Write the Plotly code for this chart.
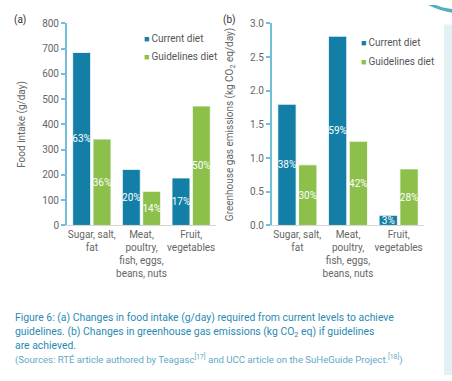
import plotly.graph_objects as go

categories = ["Sugar, salt,<br>fat", "Meat,<br>poultry,<br>fish, eggs,<br>beans, nuts", "Fruit,<br>vegetables"]
intake_current = [685, 222, 188]
intake_guidelines = [342, 135, 473]
intake_current_pct = ["63%", "20%", "17%"]
intake_guidelines_pct = ["36%", "14%", "50%"]
ghg_current = [1.80, 2.81, 0.15]
ghg_guidelines = [0.90, 1.25, 0.84]
ghg_current_pct = ["38%", "59%", "3%"]
ghg_guidelines_pct = ["30%", "42%", "28%"]
series_names = ["Current diet", "Guidelines diet"]

W, H = 452, 381
BLUE = "#137fa7"
GREEN = "#8cc04b"
AXBLUE = "#72bedb"
GRAY = "#666666"
FONT = "Roboto"

def px(x):
    return x / W

def py(y):
    return 1 - y / H

fig = go.Figure()

def add_bars(xa, ya, vals, pcts, name, color):
    fig.add_trace(go.Bar(
        x=categories, y=vals, name=name, xaxis=xa, yaxis=ya,
        marker=dict(color=color, line=dict(color="white", width=0.8)),
        text=pcts, textposition="inside", insidetextanchor="middle",
        textangle=0, constraintext="none", cliponaxis=False,
        textfont=dict(family=FONT, size=10, color="white"),
        showlegend=False,
    ))

add_bars("x", "y", intake_current, intake_current_pct, series_names[0], BLUE)
add_bars("x", "y", intake_guidelines, intake_guidelines_pct, series_names[1], GREEN)
add_bars("x2", "y2", ghg_current, ghg_current_pct, series_names[0], BLUE)
add_bars("x2", "y2", ghg_guidelines, ghg_guidelines_pct, series_names[1], GREEN)

ydom = [py(227), py(19)]
common_x = dict(showline=True, linecolor="#d6d6d6", linewidth=1, ticks="",
                tickangle=0, tickfont=dict(family=FONT, size=10, color=GRAY),
                showgrid=False, fixedrange=True)
common_y = dict(showline=True, linecolor=AXBLUE, linewidth=2, ticks="outside",
                ticklen=4, tickcolor=AXBLUE, tickwidth=2, showgrid=False,
                zeroline=False, tickfont=dict(family=FONT, size=10, color=GRAY),
                title_font=dict(family=FONT, size=10, color=GRAY), title_standoff=15)

fig.update_layout(
    width=W, height=H, margin=dict(l=0, r=0, t=0, b=0),
    paper_bgcolor="white", plot_bgcolor="white",
    barmode="group", bargap=0.18, bargroupgap=0.12,
    font=dict(family=FONT, size=10, color=GRAY),
    xaxis=dict(domain=[px(67), px(216)], anchor="y", **common_x),
    yaxis=dict(domain=ydom, anchor="x", range=[0, 800], dtick=100,
               title_text="Food intake (g/day)", **common_y),
    xaxis2=dict(domain=[px(272), px(424)], anchor="y2", **common_x),
    yaxis2=dict(domain=ydom, anchor="x2", range=[0, 3], dtick=0.5, tickformat=".1f",
                title_text="Greenhouse gas emissions (kg CO<sub>2</sub> eq/day)", **common_y),
)

ann = []
# panel labels
ann.append(dict(text="(a)", x=px(12), y=py(15), xanchor="left", yanchor="middle",
                font=dict(family=FONT, size=10, color="#333333")))
ann.append(dict(text="(b)", x=px(221), y=py(15), xanchor="left", yanchor="middle",
                font=dict(family=FONT, size=10, color="#333333")))
# legends
for (lx, ly0, ly1) in [(142, 35, 53), (359, 39, 58)]:
    for i, (nm, col) in enumerate(zip(series_names, [BLUE, GREEN])):
        ann.append(dict(text=f"<span style='color:{col};font-size:9px'>■</span>\u2009{nm}",
                        x=px(lx), y=py([ly0, ly1][i]), xanchor="left", yanchor="middle",
                        font=dict(family=FONT, size=10, color="#555555")))
# caption
cap_lines = [
    "Figure 6: (a) Changes in food intake (g/day) required from current levels to achieve",
    "guidelines. (b) Changes in greenhouse gas emissions (kg CO<sub>2</sub> eq) if guidelines",
    "are achieved.",
]
for t, yy in zip(cap_lines, [322, 337, 351]):
    ann.append(dict(text=t, x=px(13), y=py(yy), xanchor="left", yanchor="middle",
                    font=dict(family=FONT, size=10.4, color="#2a8ab2")))
ann.append(dict(text="(Sources: RTÉ article authored by Teagasc<sup>[17]</sup> and UCC article on the SuHeGuide Project.<sup>[18]</sup>)",
                x=px(13), y=py(365), xanchor="left", yanchor="middle",
                font=dict(family=FONT, size=9.6, color="#62a8c8")))
for a in ann:
    a.update(xref="paper", yref="paper", showarrow=False)
fig.update_layout(annotations=ann)

# decorative side panel and corner arc
fig.update_layout(shapes=[
    dict(type="rect", xref="paper", yref="paper", x0=px(444), x1=1.0, y0=0, y1=py(20),
         fillcolor="#e3f1f5", line=dict(width=0), layer="below"),
    dict(type="path", xref="paper", yref="paper",
         path=(f"M {px(428)},{py(0)} Q {px(440)},{py(6)} {px(452)},{py(8)} "
               f"L {px(452)},{py(4)} Q {px(442)},{py(3)} {px(436)},{py(0)} Z"),
         fillcolor="#4fb3bf", line=dict(width=0)),
])

fig.write_html("out.html", config={"displayModeBar": False},
               post_script="document.body.style.margin='0';document.body.style.overflow='hidden';")
